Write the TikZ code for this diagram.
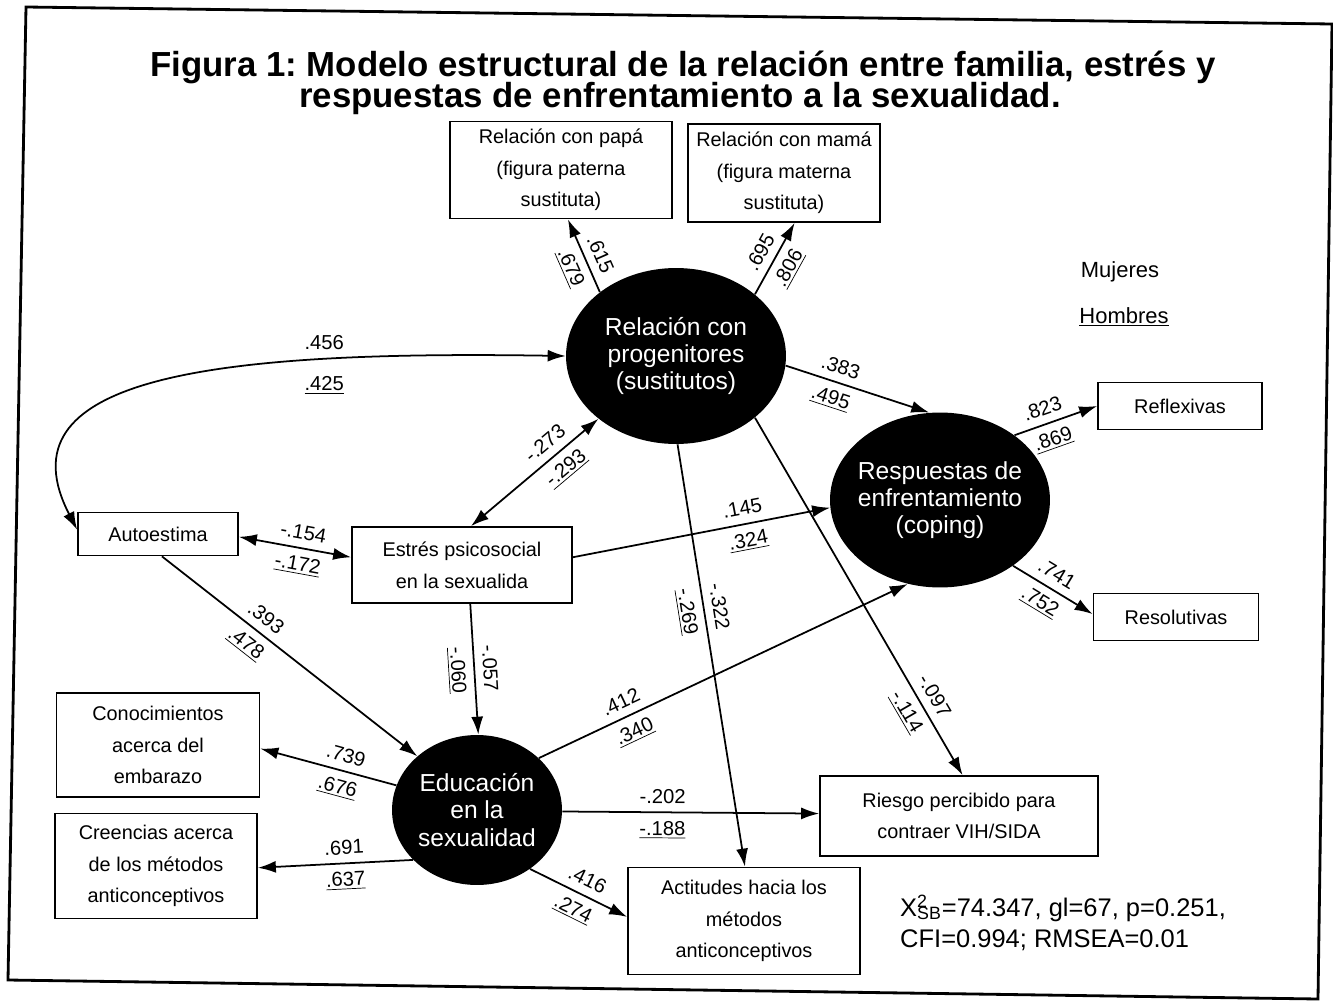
\documentclass[tikz,border=0pt]{standalone}
\usepackage{fontspec}
\setmainfont{Liberation Sans}
\setsansfont{Liberation Sans}
\usetikzlibrary{arrows.meta}
\usetikzlibrary{shapes}
\frenchspacing

\begin{document}
\begin{tikzpicture}[x=0.02cm, y=-0.02cm, font=\sffamily]
\tikzstyle{BoxStyle}=[draw, line width=1pt, align=center, inner sep=0pt, font=\sffamily\fontsize{11.3}{18}\selectfont]
\tikzstyle{LatentStyle}=[ellipse, fill=black, inner sep=0pt]
\tikzstyle{LatentText}=[text=white, align=center, font=\sffamily\fontsize{14}{15.5}\selectfont]
\tikzstyle{EdgeStyle}=[line width=1pt, -{Latex[length=3.6mm,width=2.4mm]}]
\tikzstyle{BothStyle}=[line width=1pt, {Latex[length=3.6mm,width=2.4mm]}-{Latex[length=3.6mm,width=2.4mm]}]
\tikzstyle{upper}=[sloped, above=3.5pt, inner sep=1pt, font=\sffamily\fontsize{11.5}{12}\selectfont]
\tikzstyle{lower}=[sloped, below=3.5pt, inner sep=1pt, font=\sffamily\fontsize{11.5}{12}\selectfont]
\useasboundingbox (0,0) rectangle (1333,1001);
\draw[line width=1.6pt] (26,7) -- (1332,24) -- (1318,999) -- (8,980) -- cycle;
% title
\node[font=\sffamily\bfseries\fontsize{19.8}{22}\selectfont] (t1) at (683,67) {Figura 1: Modelo estructural de la relación entre familia, estrés y};
\node[font=\sffamily\bfseries\fontsize{19.8}{22}\selectfont] (t2) at (680,99) {respuestas de enfrentamiento a la sexualidad.};
% observed variables
\node[BoxStyle, minimum width=4.44cm, minimum height=1.94cm] (papa) at (561,170) {Relación con papá\\(figura paterna\\sustituta)};
\node[BoxStyle, minimum width=3.84cm, minimum height=1.96cm] (mama) at (784,173) {Relación con mamá\\(figura materna\\sustituta)};
\node[BoxStyle, minimum width=3.28cm, minimum height=0.94cm] (refl) at (1180,406) {Reflexivas};
\node[BoxStyle, minimum width=3.3cm, minimum height=0.94cm] (resol) at (1176,617) {Resolutivas};
\node[BoxStyle, minimum width=3.2cm, minimum height=0.86cm] (auto) at (158,534) {Autoestima};
\node[BoxStyle, minimum width=4.4cm, minimum height=1.52cm] (estres) at (462,565) {Estrés psicosocial\\en la sexualida};
\node[BoxStyle, minimum width=4.06cm, minimum height=2.08cm] (conoc) at (158,745) {Conocimientos\\acerca del\\embarazo};
\node[BoxStyle, minimum width=4.04cm, minimum height=2.1cm] (creen) at (156,866) {Creencias acerca\\de los métodos\\anticonceptivos};
\node[BoxStyle, minimum width=5.56cm, minimum height=1.6cm] (riesgo) at (959,816) {Riesgo percibido para\\contraer VIH/SIDA};
\node[BoxStyle, minimum width=4.64cm, minimum height=2.14cm] (actit) at (744,921) {Actitudes hacia los\\métodos\\anticonceptivos};
% latent variables
\node[LatentStyle, minimum width=4.4cm, minimum height=3.52cm] (prog) at (676,356) {};
\node[LatentText] (progt) at (prog) {Relación con\\progenitores\\(sustitutos)};
\node[LatentStyle, minimum width=4.4cm, minimum height=3.5cm] (coping) at (940,500) {};
\node[LatentText] (copingt) at (coping) {Respuestas de\\enfrentamiento\\(coping)};
\node[LatentStyle, minimum width=3.4cm, minimum height=3.0cm] (edu) at (477,810) {};
\node[LatentText] (edut) at (edu) {Educación\\en la\\sexualidad};
% paths
\draw[BothStyle] (auto.177) .. controls (0,380) and (200,350) .. node[pos=.75, above=2pt, font=\sffamily\fontsize{11.5}{12}\selectfont] (a3) {.456} node[pos=.75, below=6pt, font=\sffamily\fontsize{11.5}{12}\selectfont] (b3) {\underline{.425}} (prog.west);
\draw[EdgeStyle] (prog.140) -- node[upper, pos=.43] (a1) {.615} node[lower, pos=.43] (b1) {\underline{.679}} (papa.-82);
\draw[EdgeStyle] (prog.38) -- node[upper, pos=.48] (a2) {.695} node[lower, pos=.48] (b2) {\underline{.806}} (mama.-78);
\draw[BothStyle] (estres.77) -- node[upper, pos=.66] (a4) {-.273} node[lower, pos=.66] (b4) {\underline{-.293}} (prog.219);
\draw[BothStyle] (auto.-2) -- node[upper, pos=.55] (a5) {-.154} node[lower, pos=.55] (b5) {\underline{-.172}} (estres.176);
\draw[EdgeStyle] (estres.4) -- node[upper, pos=.67] (a6) {.145} node[lower, pos=.67] (b6) {\underline{.324}} (coping.184);
\draw[EdgeStyle] (prog.-5) -- node[upper, pos=.35] (a7) {.383} node[lower, pos=.35] (b7) {\underline{.495}} (coping.97);
\draw[EdgeStyle] (coping.41) -- node[upper, pos=.4] (a8) {.823} node[lower, pos=.4] (b8) {\underline{.869}} (refl.180);
\draw[EdgeStyle] (coping.-42) -- node[upper, pos=.45] (a9) {.741} node[lower, pos=.45] (b9) {\underline{.752}} (resol.178);
\draw[EdgeStyle] (auto.-80) -- node[upper, pos=.37] (a10) {.393} node[lower, pos=.37] (b10) {\underline{.478}} (edu.138);
\draw[EdgeStyle] (estres.-78) -- node[upper, pos=.5] (a11) {-.057} node[lower, pos=.5] (b11) {\underline{-.060}} (edu.89);
\draw[EdgeStyle] (prog.-89) -- node[upper, pos=.39] (a12) {-.322} node[lower, pos=.39] (b12) {\underline{-.269}} (actit.89);
\draw[EdgeStyle] (prog.-38) -- node[upper, pos=.8] (a13) {-.097} node[lower, pos=.8] (b13) {\underline{-.114}} (riesgo.85);
\draw[EdgeStyle] (edu.40) -- node[upper, pos=.24] (a14) {.412} node[lower, pos=.24] (b14) {\underline{.340}} (coping.249);
\draw[EdgeStyle] (edu.163) -- node[upper, pos=.4] (a15) {.739} node[lower, pos=.4] (b15) {\underline{.676}} (conoc.-2);
\draw[EdgeStyle] (edu.218) -- node[upper, pos=.44] (a16) {.691} node[lower, pos=.44] (b16) {\underline{.637}} (creen.-1);
\draw[EdgeStyle] (edu.-1) -- node[upper, pos=.39] (a17) {-.202} node[lower, pos=.39] (b17) {\underline{-.188}} (riesgo.179);
\draw[EdgeStyle] (edu.-48) -- node[upper, pos=.52] (a18) {.416} node[lower, pos=.52] (b18) {\underline{.274}} (actit.178);
% legend and fit
\node[font=\sffamily\fontsize{12.5}{13}\selectfont] (muj) at (1120,272) {Mujeres};
\node[font=\sffamily\fontsize{12.5}{13}\selectfont] (hom) at (1124,317) {\underline{Hombres}};
\node[anchor=west, font=\sffamily\fontsize{14.5}{15}\selectfont] (fit1) at (894,908) {X\rlap{\textsuperscript{2}}\textsubscript{SB}=74.347, gl=67, p=0.251,};
\node[anchor=west, font=\sffamily\fontsize{14.5}{15}\selectfont] (fit2) at (894,940) {CFI=0.994; RMSEA=0.01};
\end{tikzpicture}
\end{document}
